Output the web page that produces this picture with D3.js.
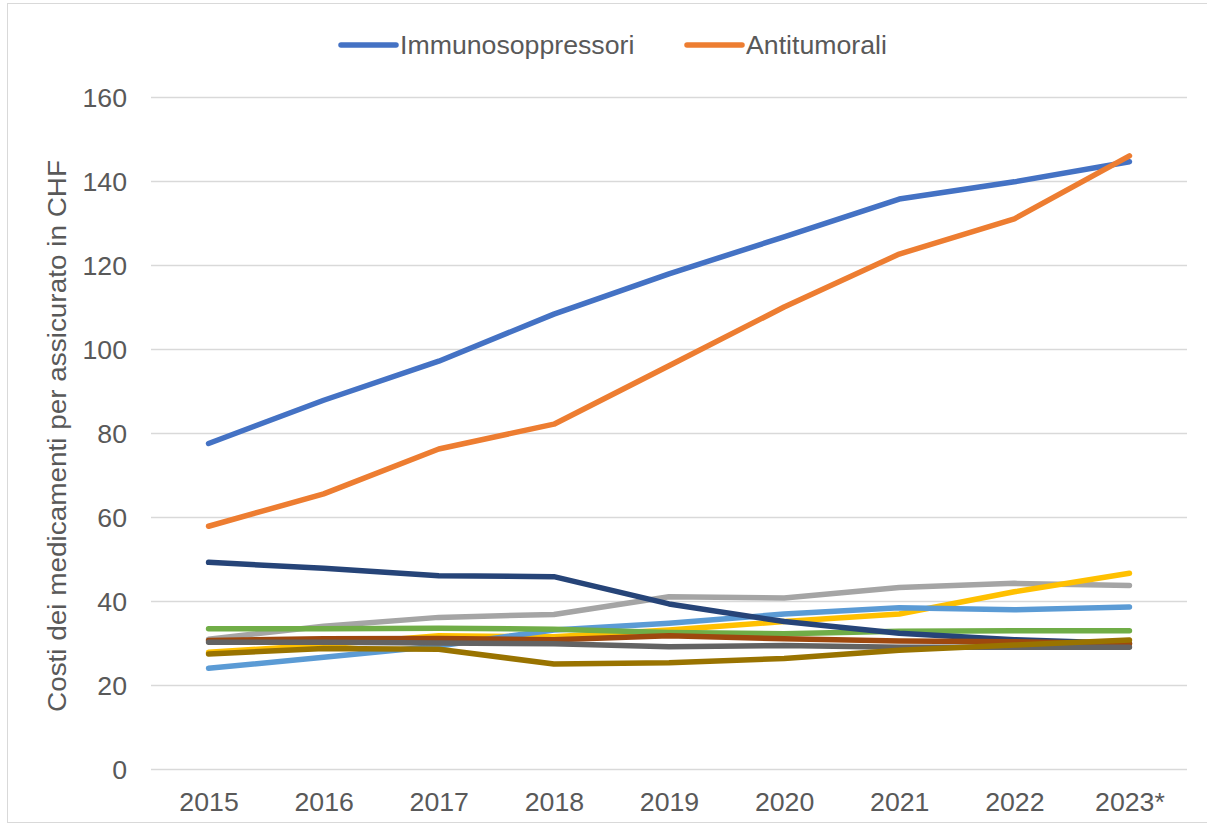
<!DOCTYPE html>
<html>
<head>
<meta charset="utf-8">
<script src="https://cdn.jsdelivr.net/npm/d3@7"></script>
<style>
  body { margin: 0; background: #fff; }
  text { font-family: "Liberation Sans", Arial, sans-serif; }
</style>
</head>
<body>
<div id="chart"></div>
<script>
// years on the x axis
const years = ["2015", "2016", "2017", "2018", "2019", "2020", "2021", "2022", "2023*"];
const yTicks = [0, 20, 40, 60, 80, 100, 120, 140, 160];

// costs per insured person, CHF
const immunosoppressori = [77.5, 87.8, 97.1, 108.3, 117.9, 126.7, 135.7, 139.8, 144.6];
const antitumorali = [57.8, 65.5, 76.2, 82.1, 96.0, 110.0, 122.6, 131.0, 146.0];
const serie3 = [30.9, 34.0, 36.1, 36.8, 41.0, 40.7, 43.2, 44.2, 43.7];
const serie4 = [27.8, 29.5, 31.7, 31.5, 33.1, 35.1, 36.9, 42.2, 46.6];
const serie5 = [24.0, 26.6, 29.3, 33.1, 34.7, 36.9, 38.4, 37.9, 38.6];
const serie6 = [33.4, 33.4, 33.5, 33.3, 32.5, 32.2, 32.8, 32.9, 32.9];
const serie7 = [49.2, 47.8, 46.0, 45.8, 39.3, 35.1, 32.3, 30.8, 29.9];
const serie8 = [30.6, 31.0, 31.1, 30.8, 31.7, 31.0, 30.5, 30.3, 29.8];
const serie9 = [30.2, 30.2, 30.0, 29.8, 29.1, 29.4, 29.0, 29.0, 29.0];
const serie10 = [27.4, 28.7, 28.5, 25.0, 25.3, 26.3, 28.3, 29.5, 30.7];

const seriesNames = ["Immunosoppressori", "Antitumorali", "Serie 3", "Serie 4", "Serie 5",
  "Serie 6", "Serie 7", "Serie 8", "Serie 9", "Serie 10"];
const seriesValues = [immunosoppressori, antitumorali, serie3, serie4, serie5,
  serie6, serie7, serie8, serie9, serie10];
const legendNames = ["Immunosoppressori", "Antitumorali"];

class CostChart {

  constructor() {
    this.width = 1207;
    this.height = 827;
    this.margin = {top: 97, right: 20, bottom: 58, left: 151};
    this.colors = ["#4472C4", "#ED7D31", "#A5A5A5", "#FFC000", "#5B9BD5",
      "#70AD47", "#264478", "#9E480E", "#636363", "#997300"];
    this.svg = d3.select("#chart").append("svg")
      .attr("width", this.width)
      .attr("height", this.height);
  }

  draw() {
    let self = this;
    let m = this.margin;

    // outer chart border
    this.svg.append("rect")
      .attr("x", 7.5).attr("y", 3.5)
      .attr("width", this.width).attr("height", 819)
      .attr("fill", "none")
      .attr("stroke", "#d9d9d9")
      .attr("stroke-width", 1);

    let x = d3.scalePoint()
      .domain(years)
      .range([m.left, 1187])
      .padding(0.5);
    let y = d3.scaleLinear()
      .domain([0, 160])
      .range([769, m.top]);

    // gridlines
    let yAxis = d3.axisLeft(y)
      .tickValues(yTicks)
      .tickSize(-(1187 - m.left))
      .tickPadding(24);
    let gy = this.svg.append("g")
      .attr("transform", `translate(${m.left},0)`)
      .call(yAxis);
    gy.select(".domain").remove();
    gy.selectAll(".tick line")
      .attr("stroke", "#d9d9d9")
      .attr("stroke-width", 1.5);
    gy.selectAll(".tick text")
      .attr("fill", "#595959")
      .attr("font-size", "26.7px")
      .attr("dy", "0.36em");

    let xAxis = d3.axisBottom(x).tickSize(0).tickPadding(23);
    let gx = this.svg.append("g")
      .attr("transform", "translate(0,769)")
      .call(xAxis);
    gx.select(".domain").remove();
    gx.selectAll(".tick text")
      .attr("fill", "#595959")
      .attr("font-size", "26.7px");

    // axis title (a bit condensed, as in the original)
    this.svg.append("text")
      .attr("transform", `translate(66,436) rotate(-90)`)
      .attr("text-anchor", "middle")
      .attr("fill", "#595959")
      .attr("font-size", "26.7px")
      .attr("textLength", 552)
      .attr("lengthAdjust", "spacingAndGlyphs")
      .text("Costi dei medicamenti per assicurato in CHF");

    let line = d3.line()
      .x((d, i) => x(years[i]))
      .y(d => y(d));

    this.svg.append("g").selectAll("path")
      .data(seriesValues)
      .join("path")
      .attr("d", d => line(d))
      .attr("fill", "none")
      .attr("stroke", (d, i) => self.colors[i])
      .attr("stroke-width", 5.5)
      .attr("stroke-linecap", "round")
      .attr("stroke-linejoin", "round");

    // legend, only the first two series
    let legendX = [341, 687];
    let legend = this.svg.append("g").selectAll("g")
      .data(legendNames)
      .join("g")
      .attr("transform", (d, i) => `translate(${legendX[i]},45)`);
    legend.append("line")
      .attr("x1", 0).attr("x2", 55)
      .attr("stroke", (d, i) => self.colors[i])
      .attr("stroke-width", 5.5)
      .attr("stroke-linecap", "round");
    legend.append("text")
      .attr("x", 59)
      .attr("y", 9)
      .attr("fill", "#595959")
      .attr("font-size", "26.7px")
      .text(d => d);
  }
}

let chart = new CostChart();
chart.draw();
</script>
</body>
</html>
